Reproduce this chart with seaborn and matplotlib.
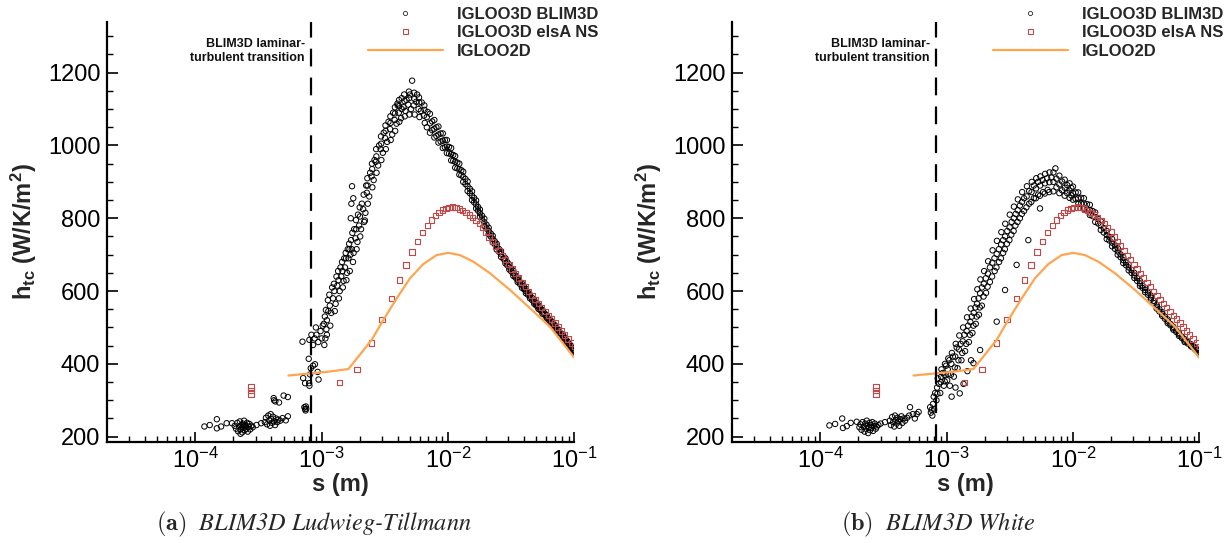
import numpy as np
import pandas as pd
import matplotlib
matplotlib.use("Agg")
import matplotlib.pyplot as plt
import seaborn as sns
from matplotlib.lines import Line2D
from matplotlib.ticker import LogLocator, MultipleLocator, NullFormatter, FixedLocator

# ---------------- data ----------------
# IGLOO2D (same in both panels)
igloo2d_s = [5.46e-4, 1.16e-3, 1.63e-3, 2.49e-3, 3.08e-3, 3.93e-3, 5.00e-3, 6.37e-3, 8.14e-3,
             1.005e-2, 1.24e-2, 1.585e-2, 2.15e-2, 3.10e-2, 4.46e-2, 6.42e-2, 1.0e-1]
igloo2d_h = [368, 379, 386, 466, 521, 580, 635, 674, 699, 705, 699, 681, 649, 603, 553, 502, 417]

# IGLOO3D elsA NS (same in both panels)
elsa_s = [2.75e-4, 2.75e-4, 2.75e-4, 1.38e-3, 1.91e-3, 2.47e-3, 3.00e-3, 3.56e-3, 4.11e-3, 4.65e-3,
          5.19e-3, 5.75e-3, 6.30e-3, 6.86e-3, 7.38e-3, 7.93e-3, 8.49e-3, 9.08e-3, 9.64e-3,
          1.02e-2, 1.09e-2, 1.16e-2, 1.23e-2, 1.31e-2, 1.39e-2, 1.48e-2, 1.57e-2, 1.67e-2, 1.77e-2,
          1.88e-2, 1.995e-2, 2.118e-2, 2.249e-2, 2.388e-2, 2.535e-2, 2.692e-2, 2.858e-2, 3.034e-2,
          3.221e-2, 3.420e-2, 3.631e-2, 3.855e-2, 4.093e-2, 4.345e-2, 4.613e-2, 4.898e-2, 5.200e-2,
          5.521e-2, 5.861e-2, 6.223e-2, 6.607e-2, 7.015e-2, 7.447e-2, 7.907e-2, 8.395e-2, 8.913e-2,
          9.462e-2, 1.0e-1]
elsa_h = [337, 327, 317, 349, 384, 457, 522, 579, 630, 672, 707, 737, 761, 781, 795, 807, 816, 823, 827,
          830, 831, 830, 826, 822, 816, 809, 802, 794, 785, 775, 762, 749, 736, 724, 711, 698, 686, 673,
          661, 649, 636, 624, 612, 599, 588, 577, 566, 555, 544, 533, 523, 512, 501, 490, 479, 468, 457, 447]

# IGLOO3D BLIM3D, Ludwieg-Tillmann (panel a)
lt_laminar = [(1.18e-4, 228), (1.30e-4, 232), (1.48e-4, 248), (1.48e-4, 223), (1.60e-4, 228), (1.77e-4, 237),
              (1.95e-4, 237), (2.05e-4, 230), (2.10e-4, 222), (2.15e-4, 238), (2.18e-4, 215), (2.22e-4, 228),
              (2.25e-4, 242), (2.28e-4, 220), (2.28e-4, 208), (2.32e-4, 232), (2.35e-4, 212), (2.36e-4, 226),
              (2.38e-4, 236), (2.40e-4, 225), (2.43e-4, 244), (2.45e-4, 233), (2.46e-4, 218), (2.50e-4, 230),
              (2.53e-4, 222), (2.57e-4, 238), (2.60e-4, 214), (2.64e-4, 228), (2.68e-4, 235), (2.72e-4, 220),
              (2.78e-4, 230), (2.85e-4, 226), (3.05e-4, 232), (3.32e-4, 237), (3.55e-4, 240), (3.62e-4, 252),
              (3.70e-4, 234), (3.78e-4, 258), (3.85e-4, 245), (3.90e-4, 230), (3.95e-4, 262), (4.00e-4, 248),
              (4.05e-4, 238), (4.12e-4, 255), (4.20e-4, 242), (4.28e-4, 232), (4.35e-4, 250), (4.45e-4, 240),
              (4.55e-4, 247), (4.70e-4, 244), (4.90e-4, 251), (5.20e-4, 245), (5.40e-4, 256),
              (4.17e-4, 306), (4.20e-4, 300), (4.30e-4, 297), (4.60e-4, 294), (5.00e-4, 313), (5.40e-4, 309),
              (7.30e-4, 281), (7.40e-4, 276), (7.46e-4, 272), (7.50e-4, 283), (7.55e-4, 277)]
lt_transition = [(7.14e-4, 361), (7.40e-4, 347), (7.96e-4, 347), (8.00e-4, 340), (8.10e-4, 371), (8.20e-4, 388),
                 (7.90e-4, 414), (8.55e-4, 395), (8.85e-4, 399), (9.30e-4, 378), (9.45e-4, 357),
                 (7.05e-4, 461), (8.00e-4, 466), (8.30e-4, 480), (8.55e-4, 452), (8.80e-4, 470), (9.00e-4, 500),
                 (9.10e-4, 480), (9.40e-4, 460), (9.80e-4, 490), (1.00e-3, 470), (1.02e-3, 505), (1.05e-3, 452),
                 (1.08e-3, 548), (1.10e-3, 480), (1.10e-3, 520)]
lt_rise = [(1.04e-3, 510), (1.06e-3, 530), (1.07e-3, 470),
           (1.13e-3, 545), (1.15e-3, 590), (1.17e-3, 505), (1.16e-3, 560),
           (1.23e-3, 580), (1.25e-3, 620), (1.27e-3, 545), (1.26e-3, 600),
           (1.33e-3, 615), (1.35e-3, 655), (1.37e-3, 580), (1.36e-3, 630),
           (1.43e-3, 640), (1.45e-3, 680), (1.47e-3, 610), (1.46e-3, 655),
           (1.53e-3, 665), (1.55e-3, 705), (1.57e-3, 630), (1.56e-3, 690),
           (1.63e-3, 690), (1.65e-3, 730), (1.67e-3, 655), (1.66e-3, 715),
           (1.73e-3, 715), (1.75e-3, 760), (1.77e-3, 680), (1.74e-3, 888), (1.72e-3, 840),
           (1.85e-3, 745), (1.87e-3, 795), (1.89e-3, 715), (1.88e-3, 770),
           (1.98e-3, 780), (2.00e-3, 830), (2.02e-3, 750), (2.01e-3, 805),
           (2.13e-3, 825), (2.15e-3, 865), (2.17e-3, 790), (2.20e-3, 794),
           (2.28e-3, 870), (2.30e-3, 910), (2.32e-3, 840), (2.31e-3, 890),
           (2.48e-3, 915), (2.50e-3, 950), (2.52e-3, 885), (2.51e-3, 935),
           (2.68e-3, 955), (2.70e-3, 990), (2.72e-3, 925), (2.71e-3, 970),
           (2.93e-3, 990), (2.95e-3, 1025), (2.97e-3, 960), (2.96e-3, 1005),
           (3.18e-3, 1020), (3.20e-3, 1055), (3.22e-3, 990), (3.21e-3, 1040),
           (3.48e-3, 1045), (3.50e-3, 1080), (3.52e-3, 1015), (3.51e-3, 1062),
           (3.78e-3, 1070), (3.80e-3, 1105), (3.82e-3, 1040), (3.81e-3, 1088),
           (4.08e-3, 1090), (4.10e-3, 1125), (4.12e-3, 1065), (4.11e-3, 1108),
           (4.45e-3, 1105), (4.50e-3, 1140), (4.55e-3, 1080), (4.52e-3, 1122),
           (4.85e-3, 1112), (4.90e-3, 1148), (4.95e-3, 1085), (4.92e-3, 1130), (5.20e-3, 1178),
           (5.35e-3, 1110), (5.40e-3, 1145), (5.45e-3, 1085), (5.42e-3, 1128),
           (5.85e-3, 1100), (5.90e-3, 1132), (5.95e-3, 1078), (5.92e-3, 1118),
           (6.45e-3, 1082), (6.50e-3, 1110), (6.55e-3, 1062), (6.52e-3, 1098)]
lt_rise_more = [(1.09e-3, 495), (1.12e-3, 575), (1.19e-3, 540), (1.21e-3, 610), (1.29e-3, 565), (1.31e-3, 640),
                (1.39e-3, 600), (1.41e-3, 665), (1.49e-3, 628), (1.51e-3, 690), (1.59e-3, 650), (1.61e-3, 715),
                (1.69e-3, 700), (1.71e-3, 740), (1.79e-3, 705), (1.81e-3, 770), (1.92e-3, 735), (1.94e-3, 810),
                (2.05e-3, 770), (2.08e-3, 840), (2.22e-3, 815), (2.25e-3, 890), (2.38e-3, 860), (2.42e-3, 925),
                (2.58e-3, 905), (2.62e-3, 960), (2.80e-3, 945), (2.85e-3, 1000), (3.05e-3, 980), (3.10e-3, 1035),
                (3.30e-3, 1010), (3.38e-3, 1065), (3.62e-3, 1030), (3.68e-3, 1090), (3.92e-3, 1060),
                (3.98e-3, 1115), (4.25e-3, 1075), (4.30e-3, 1130), (1.70e-3, 800), (1.78e-3, 855),
                (4.30e-3, 1100), (4.70e-3, 1125), (5.10e-3, 1100), (5.60e-3, 1120), (6.10e-3, 1095),
                (6.80e-3, 1078), (4.00e-3, 1110), (4.60e-3, 1095), (5.00e-3, 1140), (5.70e-3, 1140),
                (6.20e-3, 1118), (6.80e-3, 1050), (6.90e-3, 1092)]
lt_fall_s = [7.2e-3, 7.8e-3, 8.4e-3, 9.1e-3, 9.8e-3, 1.06e-2, 1.14e-2, 1.23e-2, 1.32e-2, 1.43e-2, 1.55e-2,
             1.67e-2, 1.79e-2, 1.94e-2, 2.1e-2, 2.26e-2, 2.43e-2, 2.63e-2, 2.85e-2, 3.06e-2, 3.29e-2, 3.56e-2,
             3.85e-2, 4.14e-2, 4.46e-2, 4.82e-2, 5.2e-2, 5.6e-2, 6.04e-2, 6.5e-2, 7.0e-2, 7.55e-2, 8.18e-2,
             8.8e-2, 9.4e-2, 1.0e-1]
lt_fall_mid = [1061, 1046, 1030, 1013, 997, 976, 955, 935, 914, 888, 862, 838, 814, 789, 765, 743, 722, 702,
               683, 666, 649, 631, 615, 600, 585, 570, 556, 543, 530, 516, 503, 489, 475, 460, 447, 433]
lt_fall_hi = [1087, 1070, 1052, 1033, 1015, 993, 971, 950, 928, 901, 874, 849, 824, 799, 774, 752, 730, 710,
              690, 673, 656, 637, 621, 606, 590, 575, 561, 548, 534, 520, 507, 493, 478, 463, 450, 436]
lt_fall_lo = [1035, 1022, 1008, 993, 979, 959, 939, 920, 900, 875, 850, 827, 804, 779, 756, 734, 714, 694,
              676, 659, 642, 625, 609, 594, 580, 565, 551, 538, 526, 512, 499, 485, 472, 457, 444, 430]
lt_fall2_s = [7.5e-3, 8.1e-3, 8.75e-3, 9.45e-3, 1.02e-2, 1.1e-2, 1.185e-2, 1.275e-2, 1.375e-2, 1.49e-2, 1.61e-2,
              1.73e-2, 1.86e-2, 2.02e-2, 2.18e-2, 2.345e-2, 2.53e-2, 2.74e-2, 2.95e-2, 3.17e-2, 3.42e-2, 3.7e-2,
              4.0e-2, 4.3e-2, 4.64e-2, 5.0e-2, 5.4e-2, 5.82e-2, 6.27e-2, 6.75e-2, 7.27e-2, 7.86e-2, 8.49e-2,
              9.1e-2, 9.7e-2]
lt_fall2_a = [1066, 1050, 1033, 1015, 996, 974, 953, 932, 908, 881, 856, 831, 807, 782, 758, 737, 716, 697, 679,
              662, 643, 626, 611, 596, 581, 566, 553, 539, 525, 512, 498, 484, 470, 456, 442]
lt_fall2_b = [1042, 1026, 1011, 995, 978, 958, 937, 918, 894, 869, 844, 821, 797, 772, 750, 729, 708, 689, 671,
              654, 637, 620, 605, 590, 575, 560, 547, 535, 521, 508, 494, 480, 466, 452, 438]

# IGLOO3D BLIM3D, White (panel b)
wh_laminar = [(1.18e-4, 231), (1.31e-4, 235), (1.49e-4, 250), (1.51e-4, 224), (1.62e-4, 229), (1.74e-4, 238),
              (1.94e-4, 241), (2.04e-4, 226), (2.08e-4, 234), (2.12e-4, 219), (2.16e-4, 240), (2.20e-4, 228),
              (2.24e-4, 214), (2.27e-4, 236), (2.30e-4, 222), (2.33e-4, 244), (2.36e-4, 230), (2.39e-4, 210),
              (2.42e-4, 226), (2.45e-4, 238), (2.48e-4, 218), (2.51e-4, 232), (2.54e-4, 224), (2.58e-4, 240),
              (2.62e-4, 216), (2.66e-4, 230), (2.70e-4, 236), (2.75e-4, 222), (2.80e-4, 228), (2.88e-4, 232),
              (3.00e-4, 236), (3.25e-4, 240), (3.55e-4, 244), (3.62e-4, 232), (3.70e-4, 254), (3.77e-4, 240),
              (3.84e-4, 228), (3.90e-4, 258), (3.96e-4, 246), (4.02e-4, 236), (4.08e-4, 252), (4.15e-4, 242),
              (4.22e-4, 230), (4.30e-4, 248), (4.38e-4, 256), (4.46e-4, 238), (4.56e-4, 250), (4.68e-4, 244),
              (4.85e-4, 252), (5.05e-4, 258), (5.13e-4, 281), (5.40e-4, 262), (5.60e-4, 250), (5.80e-4, 262),
              (6.00e-4, 268), (7.40e-4, 281), (7.50e-4, 266), (7.60e-4, 274)]
wh_rise = [(7.7e-4, 258), (7.8e-4, 290), (7.9e-4, 310), (7.95e-4, 275),
           (8.3e-4, 300), (8.4e-4, 335), (8.5e-4, 360), (8.45e-4, 318),
           (8.9e-4, 320), (9.0e-4, 350), (9.1e-4, 385), (9.05e-4, 365),
           (9.5e-4, 340), (9.6e-4, 370), (9.7e-4, 400), (9.65e-4, 352),
           (1.01e-3, 355), (1.02e-3, 385), (1.03e-3, 415), (1.025e-3, 372),
           (1.08e-3, 370), (1.09e-3, 400), (1.10e-3, 430), (1.095e-3, 310),
           (1.16e-3, 390), (1.17e-3, 420), (1.18e-3, 455), (1.175e-3, 335),
           (1.24e-3, 410), (1.25e-3, 440), (1.26e-3, 478), (1.27e-3, 319),
           (1.33e-3, 430), (1.34e-3, 462), (1.35e-3, 500), (1.36e-3, 345),
           (1.43e-3, 455), (1.44e-3, 490), (1.45e-3, 528), (1.46e-3, 380),
           (1.53e-3, 480), (1.54e-3, 515), (1.55e-3, 552), (1.56e-3, 410),
           (1.63e-3, 505), (1.64e-3, 540), (1.65e-3, 578), (1.63e-3, 402),
           (1.73e-3, 530), (1.74e-3, 565), (1.75e-3, 605),
           (1.83e-3, 555), (1.84e-3, 594), (1.85e-3, 632), (1.84e-3, 438),
           (1.96e-3, 585), (1.97e-3, 620), (1.98e-3, 655),
           (2.11e-3, 612), (2.12e-3, 648), (2.13e-3, 682),
           (2.29e-3, 640), (2.30e-3, 678), (2.31e-3, 712),
           (2.48e-3, 665), (2.49e-3, 702), (2.50e-3, 738), (2.49e-3, 516),
           (2.69e-3, 690), (2.70e-3, 728), (2.71e-3, 762),
           (2.89e-3, 715), (2.90e-3, 750), (2.91e-3, 785), (2.90e-3, 603),
           (3.14e-3, 740), (3.15e-3, 775), (3.16e-3, 810),
           (3.39e-3, 765), (3.40e-3, 800), (3.41e-3, 832),
           (3.64e-3, 790), (3.65e-3, 822), (3.66e-3, 852), (3.58e-3, 672),
           (3.94e-3, 812), (3.95e-3, 845), (3.96e-3, 872),
           (4.28e-3, 830), (4.30e-3, 860), (4.32e-3, 888), (4.43e-3, 740),
           (4.68e-3, 845), (4.70e-3, 872), (4.72e-3, 900),
           (5.08e-3, 855), (5.10e-3, 882), (5.12e-3, 910),
           (5.48e-3, 862), (5.50e-3, 890), (5.52e-3, 915), (5.48e-3, 827),
           (5.98e-3, 868), (6.00e-3, 896), (6.02e-3, 922),
           (6.48e-3, 872), (6.50e-3, 899), (6.52e-3, 926), (7.26e-3, 937)]
wh_rise_more = [(8.1e-4, 320), (8.7e-4, 345), (9.3e-4, 375), (9.9e-4, 395), (1.05e-3, 410), (1.12e-3, 420),
                (1.20e-3, 445), (1.29e-3, 455), (1.38e-3, 480), (1.48e-3, 505), (1.58e-3, 530), (1.69e-3, 555),
                (1.79e-3, 580), (1.90e-3, 610), (2.04e-3, 635), (2.20e-3, 665), (2.39e-3, 690), (2.59e-3, 715),
                (2.80e-3, 740), (3.02e-3, 765), (3.27e-3, 790), (3.52e-3, 812), (3.80e-3, 835), (4.10e-3, 855),
                (4.50e-3, 875), (4.90e-3, 890), (5.30e-3, 900), (5.75e-3, 905), (6.25e-3, 910), (6.75e-3, 912),
                (1.06e-3, 340), (1.14e-3, 365), (1.22e-3, 388), (1.31e-3, 410), (1.40e-3, 435), (1.50e-3, 460),
                (1.60e-3, 485), (1.70e-3, 510), (1.80e-3, 535), (1.90e-3, 560), (2.05e-3, 595), (2.20e-3, 625),
                (2.40e-3, 655), (2.60e-3, 680), (2.80e-3, 705), (3.00e-3, 730), (3.25e-3, 755), (3.50e-3, 780),
                (3.80e-3, 800), (4.10e-3, 820), (4.50e-3, 840), (4.90e-3, 855), (5.30e-3, 865), (5.80e-3, 872),
                (6.30e-3, 878)]
wh_fall_s = [7.0e-3, 7.8e-3, 8.6e-3, 9.4e-3, 1.0e-2, 1.1e-2, 1.22e-2, 1.36e-2, 1.5e-2, 1.66e-2, 1.85e-2,
             2.04e-2, 2.26e-2, 2.5e-2, 2.76e-2, 3.06e-2, 3.39e-2, 3.72e-2, 4.13e-2, 4.6e-2, 5.08e-2, 5.62e-2,
             6.22e-2, 6.9e-2, 7.65e-2, 8.6e-2, 9.3e-2, 1.0e-1]
wh_fall_mid = [900, 893, 884, 876, 869, 855, 840, 823, 803, 780, 754, 733, 709, 685, 665, 643, 621, 603, 582,
               557, 537, 517, 498, 481, 464, 451, 442, 430]
wh_fall_hi = [926, 917, 906, 896, 887, 871, 855, 837, 816, 792, 765, 743, 718, 693, 673, 650, 628, 609, 588,
              562, 542, 522, 502, 485, 468, 454, 445, 433]
wh_fall_lo = [874, 869, 862, 856, 851, 839, 825, 809, 790, 768, 743, 723, 700, 677, 657, 636, 614, 597, 576,
              552, 532, 512, 494, 477, 460, 448, 439, 427]
wh_fall2_s = [7.4e-3, 8.2e-3, 9.0e-3, 9.7e-3, 1.05e-2, 1.16e-2, 1.29e-2, 1.43e-2, 1.58e-2, 1.75e-2, 1.94e-2,
              2.15e-2, 2.38e-2, 2.63e-2, 2.91e-2, 3.22e-2, 3.55e-2, 3.92e-2, 4.36e-2, 4.83e-2, 5.34e-2, 5.91e-2,
              6.55e-2, 7.27e-2, 8.1e-2, 8.94e-2, 9.65e-2]
wh_fall2_a = [909, 901, 891, 883, 871, 856, 839, 820, 798, 773, 749, 726, 701, 679, 658, 636, 615, 596, 573,
              550, 530, 510, 492, 475, 460, 449, 438]
wh_fall2_b = [885, 877, 869, 863, 853, 840, 825, 806, 786, 761, 739, 716, 693, 671, 650, 628, 609, 590, 567,
              544, 524, 506, 488, 471, 456, 445, 434]

transition_s = 8.2e-4
legend_labels = ["IGLOO3D BLIM3D", "IGLOO3D elsA NS", "IGLOO2D"]
captions = [("(a)", "BLIM3D Ludwieg-Tillmann"), ("(b)", "BLIM3D White")]
y_ticks = [200, 400, 600, 800, 1000, 1200]
x_ticks = [1e-4, 1e-3, 1e-2, 1e-1]


def blim_frame(segments, rows3, rows2):
    rows = []
    for seg in segments:
        rows.extend(seg)
    s3, a3, b3, c3 = rows3
    for s, a, b, c in zip(s3, a3, b3, c3):
        rows.extend([(s, a), (s, b), (s, c)])
    s2, a2, b2 = rows2
    for s, a, b in zip(s2, a2, b2):
        rows.extend([(s, a), (s, b)])
    return pd.DataFrame(rows, columns=["s", "h"])


blim_lt = blim_frame([lt_laminar, lt_transition, lt_rise, lt_rise_more],
                     (lt_fall_s, lt_fall_mid, lt_fall_hi, lt_fall_lo), (lt_fall2_s, lt_fall2_a, lt_fall2_b))
blim_wh = blim_frame([wh_laminar, wh_rise, wh_rise_more],
                     (wh_fall_s, wh_fall_mid, wh_fall_hi, wh_fall_lo), (wh_fall2_s, wh_fall2_a, wh_fall2_b))
elsa_df = pd.DataFrame({"s": elsa_s, "h": elsa_h})
igloo_df = pd.DataFrame({"s": igloo2d_s, "h": igloo2d_h})

# ---------------- styling ----------------
sns.set_theme(style="ticks")
plt.rcParams["font.family"] = ["Liberation Sans", "DejaVu Sans"]
plt.rcParams["mathtext.fontset"] = "custom"
plt.rcParams["mathtext.rm"] = "Liberation Sans"
plt.rcParams["mathtext.bf"] = "Liberation Sans:bold"
plt.rcParams["mathtext.it"] = "Liberation Sans:italic"
plt.rcParams["mathtext.sf"] = "Liberation Sans"

RED = "#c24848"
ORANGE = "#ffa54f"

W, H = 1228, 543
fig = plt.figure(figsize=(W / 100, H / 100), dpi=100)
ax_w = 467 / W
ax_h = 420.6 / H
ax_b = 1 - 442.3 / H
axes = [fig.add_axes([107.3 / W, ax_b, ax_w, ax_h]),
        fig.add_axes([732.3 / W, ax_b, ax_w, ax_h])]
cap_x = [314 / W, 938 / W]

for ax, blim, (tag, cap), cx in zip(axes, [blim_lt, blim_wh], captions, cap_x):
    sns.scatterplot(data=blim, x="s", y="h", ax=ax, marker="o", s=15, facecolor="none",
                    edgecolor="black", linewidth=0.7, legend=False, zorder=2)
    sns.scatterplot(data=elsa_df, x="s", y="h", ax=ax, marker="s", s=15, facecolor="none",
                    edgecolor=RED, linewidth=0.8, legend=False, zorder=3)
    sns.lineplot(data=igloo_df, x="s", y="h", ax=ax, color=ORANGE, linewidth=1.6, sort=False,
                 estimator=None, legend=False, zorder=4)
    ax.axvline(transition_s, color="black", linewidth=1.6, dashes=(8, 5), zorder=5)

    ax.set_xscale("log")
    ax.set_xlim(2.01e-5, 0.1)
    ax.set_ylim(184.6, 1340)
    ax.xaxis.set_major_locator(FixedLocator(x_ticks))
    ax.xaxis.set_minor_locator(LogLocator(base=10, subs=np.arange(2, 10), numticks=20))
    ax.xaxis.set_minor_formatter(NullFormatter())
    ax.yaxis.set_major_locator(FixedLocator(y_ticks))
    ax.yaxis.set_minor_locator(MultipleLocator(50))
    ax.tick_params(which="both", direction="in", top=False, right=False, colors="black",
                   labelsize=17, width=1.2)
    ax.tick_params(axis="y", which="major", length=8, pad=5)
    ax.tick_params(axis="x", which="major", length=7.5, pad=4)
    ax.tick_params(which="minor", length=4, width=1.0)
    for side in ["top", "right"]:
        ax.spines[side].set_visible(False)
    for side in ["left", "bottom"]:
        ax.spines[side].set_linewidth(1.6)
        ax.spines[side].set_color("black")

    ax.set_xlabel("s (m)", fontsize=17, fontweight="bold")
    ax.set_ylabel(r"$\mathbf{h_{tc}}$ (W/K/m$^\mathbf{2}$)", fontsize=17, fontweight="bold")
    ax.xaxis.set_label_coords(0.5, -0.072)
    ax.yaxis.set_label_coords(-0.146, 0.5)

    ax.text(7.38e-4, 1260, "BLIM3D laminar-\nturbulent transition", ha="right", va="center",
            multialignment="right", fontsize=9, fontweight="bold", color="#111111")

    handles = [Line2D([], [], ls="none", marker="o", ms=3, mfc="none", mec="black", mew=0.5),
               Line2D([], [], ls="none", marker="s", ms=3.6, mfc="none", mec=RED, mew=0.8),
               Line2D([], [], color=ORANGE, lw=1.6)]
    ax.legend(handles, legend_labels, loc="upper left", bbox_to_anchor=(0.558, 1.035),
              frameon=False, borderpad=0, borderaxespad=0, handlelength=4.5, handletextpad=0.82,
              labelspacing=0.2, prop={"weight": "bold", "size": 12})

    fig.text(cx, 1 - 524 / H, r"$\mathbf{" + tag + r"}$  " + cap, ha="center", va="center",
             family="STIXGeneral", style="italic", math_fontfamily="cm", fontsize=17.5)

fig.savefig("out.png", dpi=100)
